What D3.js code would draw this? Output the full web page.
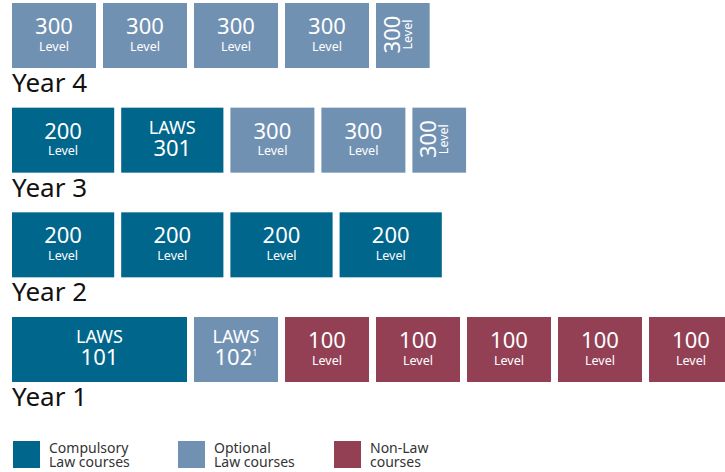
<!DOCTYPE html>
<html>
<head>
<meta charset="utf-8">
<script src="https://cdn.jsdelivr.net/npm/d3@7"></script>
<style>
  body { margin: 0; background: #fff; }
  svg { display: block; font-family: "Noto Sans", "Open Sans", sans-serif; }
  .yr { font-size: 26px; fill: #111; }
  .big { fill: #fff; }
  .leg { font-size: 14px; fill: #333; }
</style>
</head>
<body>
<svg width="725" height="472"></svg>
<script>
// rows from top to bottom
var years = ["Year 4", "Year 3", "Year 2", "Year 1"];

// [top line, bottom line, type, points]
var year4 = [["300", "Level", "opt", 15], ["300", "Level", "opt", 15], ["300", "Level", "opt", 15], ["300", "Level", "opt", 15], ["300", "Level", "opt", 10]];
var year3 = [["200", "Level", "comp", 18], ["LAWS", "301", "comp", 18], ["300", "Level", "opt", 15], ["300", "Level", "opt", 15], ["300", "Level", "opt", 10]];
var year2 = [["200", "Level", "comp", 18], ["200", "Level", "comp", 18], ["200", "Level", "comp", 18], ["200", "Level", "comp", 18]];
var year1 = [["LAWS", "101", "comp", 30], ["LAWS", "102", "opt", 15], ["100", "Level", "non", 15], ["100", "Level", "non", 15], ["100", "Level", "non", 15], ["100", "Level", "non", 15], ["100", "Level", "non", 15]];
var rows = [year4, year3, year2, year1];

var types = ["comp", "opt", "non"];
var legendLabels = [["Compulsory", "Law courses"], ["Optional", "Law courses"], ["Non-Law", "courses"]];

var svg = d3.select("svg");
var gap = 7, boxH = 65;

var color = d3.scaleOrdinal().domain(types).range(["#00668c", "#7191b3", "#934055"]);
var x = d3.scaleLinear().domain([0, 15]).range([12, 103]);
var y = d3.scalePoint().domain(years).range([3, 317]);

rows.forEach(function(row, ri) {
  var start = 0;
  var data = row.map(function(d) {
    var o = {a: d[0], b: d[1], type: d[2], pts: d[3], s: start};
    start += d[3];
    return o;
  });
  var y0 = y(years[ri]);

  var box = svg.selectAll(".r" + ri)
      .data(data)
    .enter().append("g")
      .attr("class", "r" + ri)
      .attr("transform", function(d) { return "translate(" + x(d.s) + "," + y0 + ")"; });

  box.append("rect")
      .attr("width", function(d) { return x(d.s + d.pts) - x(d.s) - gap; })
      .attr("height", boxH)
      .attr("fill", function(d) { return color(d.type); });

  box.each(function(d) {
    var g = d3.select(this);
    var w = x(d.s + d.pts) - x(d.s) - gap;
    if (d.pts <= 10) {
      // narrow box: text turned on its side
      var t = g.append("g").attr("transform", "translate(" + (w / 2) + "," + (boxH / 2 - 1) + ") rotate(-90)");
      t.append("text").attr("class", "big").attr("text-anchor", "middle").attr("y", -3)
          .style("font-size", "22px").text(d.a);
      t.append("text").attr("class", "big").attr("text-anchor", "middle").attr("y", 9)
          .style("font-size", "12.5px").text(d.b);
    } else if (d.a == "LAWS") {
      g.append("text").attr("class", "big").attr("text-anchor", "middle")
          .attr("x", w / 2).attr("y", 26).style("font-size", "18px").text(d.a);
      var n = g.append("text").attr("class", "big").attr("text-anchor", "middle")
          .attr("x", w / 2).attr("y", 48).style("font-size", "22px").text(d.b);
      if (d.type == "opt") {
        n.append("tspan").attr("dy", -9).style("font-size", "9px").text("1");
      }
    } else {
      g.append("text").attr("class", "big").attr("text-anchor", "middle")
          .attr("x", w / 2).attr("y", 31).style("font-size", "22px").text(d.a);
      g.append("text").attr("class", "big").attr("text-anchor", "middle")
          .attr("x", w / 2).attr("y", 47.5).style("font-size", "12.5px").text(d.b);
    }
  });

  svg.append("text")
      .attr("class", "yr")
      .attr("x", 12)
      .attr("y", y0 + boxH + 24)
      .text(years[ri]);
});

// legend
var legX = [13, 178, 334];
var leg = svg.selectAll(".legend")
    .data(types)
  .enter().append("g")
    .attr("class", "legend")
    .attr("transform", function(d, i) { return "translate(" + legX[i] + ",441)"; });

leg.append("rect")
    .attr("width", 27)
    .attr("height", 27)
    .attr("fill", function(d) { return color(d); });

leg.append("text")
    .attr("class", "leg")
    .attr("x", 36)
    .attr("y", 12)
    .text(function(d, i) { return legendLabels[i][0]; });

leg.append("text")
    .attr("class", "leg")
    .attr("x", 36)
    .attr("y", 26)
    .text(function(d, i) { return legendLabels[i][1]; });
</script>
</body>
</html>
